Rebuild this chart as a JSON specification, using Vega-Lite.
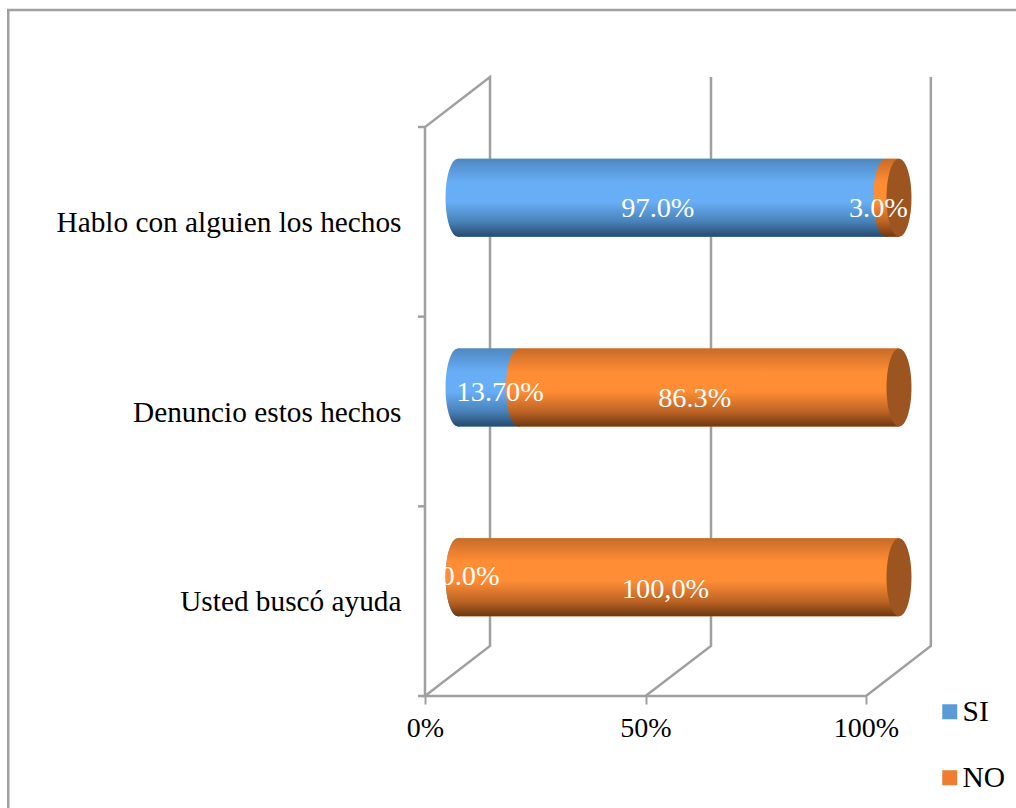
{
  "$schema": "https://vega.github.io/schema/vega-lite/v6.json",
  "width": 441,
  "height": 569,
  "padding": {"left": 425, "top": 127, "right": 150, "bottom": 112},
  "autosize": "none",
  "background": "white",
  "config": {"view": {"stroke": null}, "font": "Liberation Serif"},
  "datasets": {
    "bars": [
      {"pregunta": "Hablo con alguien los hechos", "serie": "SI", "orden": 1, "valor": 97.0, "etiqueta": "97.0%"},
      {"pregunta": "Hablo con alguien los hechos", "serie": "NO", "orden": 2, "valor": 3.0, "etiqueta": "3.0%"},
      {"pregunta": "Denuncio estos hechos", "serie": "SI", "orden": 1, "valor": 13.7, "etiqueta": "13.70%"},
      {"pregunta": "Denuncio estos hechos", "serie": "NO", "orden": 2, "valor": 86.3, "etiqueta": "86.3%"},
      {"pregunta": "Usted buscó ayuda", "serie": "SI", "orden": 1, "valor": 0.0, "etiqueta": "0.0%"},
      {"pregunta": "Usted buscó ayuda", "serie": "NO", "orden": 2, "valor": 100.0, "etiqueta": "100,0%"}
    ],
    "walls": [
      {"s": "frameA", "o": 1, "px": -94.5, "py": -0.6},
      {"s": "frameA", "o": 2, "px": -94.5, "py": 3.617},
      {"s": "frameA", "o": 3, "px": 134.2, "py": 3.617},
      {"s": "left", "o": 1, "px": 0, "py": 0},
      {"s": "left", "o": 2, "px": 0, "py": 3},
      {"s": "left", "o": 3, "px": 14.74, "py": 3.264},
      {"s": "left", "o": 4, "px": 14.74, "py": 0.264},
      {"s": "left", "o": 5, "px": 0, "py": 0},
      {"s": "left", "o": 6, "px": 100, "py": 0},
      {"s": "left", "o": 7, "px": 114.7, "py": 0.264},
      {"s": "left", "o": 8, "px": 114.7, "py": 3.264},
      {"s": "mid", "o": 1, "px": 50, "py": 0},
      {"s": "mid", "o": 2, "px": 64.85, "py": 0.264},
      {"s": "mid", "o": 3, "px": 64.85, "py": 3.264},
      {"s": "t0", "o": 1, "px": -1.6, "py": 0},
      {"s": "t0", "o": 2, "px": 0, "py": 0},
      {"s": "t1", "o": 1, "px": -1.6, "py": 1},
      {"s": "t1", "o": 2, "px": 0, "py": 1},
      {"s": "t2", "o": 1, "px": -1.6, "py": 2},
      {"s": "t2", "o": 2, "px": 0, "py": 2},
      {"s": "t3", "o": 1, "px": -1.6, "py": 3},
      {"s": "t3", "o": 2, "px": 0, "py": 3}
    ]
  },
  "resolve": {"scale": {"y": "independent"}},
  "layer": [
    {
      "data": {"name": "walls"},
      "mark": {"type": "line", "color": "#a0a0a0", "strokeWidth": 2.5, "clip": false, "interpolate": "linear"},
      "encoding": {
        "x": {
          "field": "px", "type": "quantitative",
          "scale": {"domain": [0, 100], "nice": false, "zero": false},
          "axis": {"values": [0, 50, 100], "title": null, "grid": false, "domain": false, "tickColor": "#a0a0a0", "tickWidth": 2, "tickSize": 8, "labelExpr": "datum.value + '%'", "labelFont": "Liberation Serif", "labelFontSize": 28, "labelColor": "#000000", "labelPadding": 10, "labelFlush": false}
        },
        "y": {"field": "py", "type": "quantitative", "scale": {"domain": [0, 3], "nice": false, "zero": false}, "axis": null},
        "detail": {"field": "s"},
        "order": {"field": "o"}
      }
    },
    {
      "data": {"name": "bars"},
      "transform": [
        {"stack": "valor", "groupby": ["pregunta"], "sort": [{"field": "orden"}], "as": ["inicio", "fin"]}
      ],
      "encoding": {
        "y": {
          "field": "pregunta",
          "type": "nominal",
          "sort": ["Hablo con alguien los hechos", "Denuncio estos hechos", "Usted buscó ayuda"],
          "scale": {"paddingInner": 0, "paddingOuter": 0},
          "axis": {"title": null, "ticks": false, "domain": false, "labelFont": "Liberation Serif", "labelFontSize": 29.3, "labelColor": "#000000", "labelPadding": 24, "labelLimit": 420, "labelOffset": 1}
        }
      },
      "layer": [
        {
          "mark": {"type": "bar", "height": 78, "xOffset": 33, "x2Offset": 33, "yOffset": -24},
          "encoding": {
            "x": {"field": "inicio", "type": "quantitative"},
            "x2": {"field": "fin"},
            "color": {
              "field": "serie", "type": "nominal",
              "scale": {"domain": ["SI", "NO"], "range": ["#5B9BD5", "#ED7D31"]},
              "legend": {"orient": "none", "legendX": 510, "legendY": 570, "title": null, "symbolType": "square", "symbolSize": 225, "symbolStrokeWidth": 0, "symbolOpacity": 1, "labelFont": "Liberation Serif", "labelFontSize": 29.5, "labelColor": "#000000", "labelOffset": -2, "rowPadding": 35}
            }
          }
        },
        {
          "transform": [{"filter": "datum.serie === 'SI'"}],
          "layer": [
            {
              "mark": {"type": "bar", "height": 78, "xOffset": 33, "x2Offset": 33, "yOffset": -24,
                "fill": {"gradient": "linear", "x1": 0, "y1": 0, "x2": 0, "y2": 1, "stops": [{"offset": 0, "color": "#4f88c0"}, {"offset": 0.3, "color": "#68aef6"}, {"offset": 0.55, "color": "#68aef6"}, {"offset": 0.8, "color": "#4a83ba"}, {"offset": 1, "color": "#264a6e"}]}},
              "encoding": {"x": {"field": "inicio", "type": "quantitative"}, "x2": {"field": "fin"}}
            },
            {
              "mark": {"type": "point", "filled": true, "opacity": 1, "size": 6084, "xOffset": 33, "yOffset": -24,
                "shape": "M0,-1C0.18,-1 0.32,-0.55 0.32,0C0.32,0.55 0.18,1 0,1C-0.18,1 -0.32,0.55 -0.32,0C-0.32,-0.55 -0.18,-1 0,-1Z",
                "fill": {"gradient": "linear", "x1": 0, "y1": 0, "x2": 0, "y2": 1, "stops": [{"offset": 0, "color": "#4f88c0"}, {"offset": 0.3, "color": "#68aef6"}, {"offset": 0.55, "color": "#68aef6"}, {"offset": 0.8, "color": "#4a83ba"}, {"offset": 1, "color": "#264a6e"}]}},
              "encoding": {"x": {"field": "inicio", "type": "quantitative"}}
            }
          ]
        },
        {
          "transform": [{"filter": "datum.serie === 'NO'"}],
          "layer": [
            {
              "mark": {"type": "bar", "height": 78, "xOffset": 33, "x2Offset": 33, "yOffset": -24,
                "fill": {"gradient": "linear", "x1": 0, "y1": 0, "x2": 0, "y2": 1, "stops": [{"offset": 0, "color": "#c86b28"}, {"offset": 0.3, "color": "#ff8d35"}, {"offset": 0.55, "color": "#ff8d35"}, {"offset": 0.8, "color": "#bf6526"}, {"offset": 1, "color": "#6e3810"}]}},
              "encoding": {"x": {"field": "inicio", "type": "quantitative"}, "x2": {"field": "fin"}}
            },
            {
              "mark": {"type": "point", "filled": true, "opacity": 1, "size": 6084, "xOffset": 33, "yOffset": -24,
                "shape": "M0,-1C0.18,-1 0.32,-0.55 0.32,0C0.32,0.55 0.18,1 0,1C-0.18,1 -0.32,0.55 -0.32,0C-0.32,-0.55 -0.18,-1 0,-1Z",
                "fill": {"gradient": "linear", "x1": 0, "y1": 0, "x2": 0, "y2": 1, "stops": [{"offset": 0, "color": "#c86b28"}, {"offset": 0.3, "color": "#ff8d35"}, {"offset": 0.55, "color": "#ff8d35"}, {"offset": 0.8, "color": "#bf6526"}, {"offset": 1, "color": "#6e3810"}]}},
              "encoding": {"x": {"field": "inicio", "type": "quantitative"}}
            },
            {
              "mark": {"type": "point", "filled": true, "opacity": 1, "size": 6084, "xOffset": 33, "yOffset": -24, "fill": "#9c5420",
                "shape": "M0,-1C0.18,-1 0.32,-0.55 0.32,0C0.32,0.55 0.18,1 0,1C-0.18,1 -0.32,0.55 -0.32,0C-0.32,-0.55 -0.18,-1 0,-1Z"},
              "encoding": {"x": {"field": "fin", "type": "quantitative"}}
            }
          ]
        },
        {
          "transform": [{"fold": ["inicio", "fin"], "as": ["extremo", "borde"]}],
          "encoding": {
            "x": {"aggregate": "mean", "field": "borde", "type": "quantitative"},
            "text": {"field": "etiqueta", "type": "nominal"}
          },
          "layer": [
            {
              "transform": [{"filter": "datum.etiqueta !== '13.70%' && datum.etiqueta !== '0.0%' && datum.etiqueta !== '100,0%'"}],
              "mark": {"type": "text", "color": "#ffffff", "font": "Liberation Serif", "fontSize": 28.3, "dx": 19, "dy": -13}
            },
            {
              "transform": [{"filter": "datum.etiqueta === '100,0%'"}],
              "mark": {"type": "text", "color": "#ffffff", "font": "Liberation Serif", "fontSize": 28.3, "dx": 20, "dy": -11}
            },
            {
              "transform": [{"filter": "datum.etiqueta === '13.70%'"}],
              "mark": {"type": "text", "color": "#ffffff", "font": "Liberation Serif", "fontSize": 28.3, "dx": 45, "dy": -19}
            },
            {
              "transform": [{"filter": "datum.etiqueta === '0.0%'"}],
              "mark": {"type": "text", "color": "#ffffff", "font": "Liberation Serif", "fontSize": 28.3, "dx": 45, "dy": -24}
            }
          ]
        }
      ]
    }
  ]
}
